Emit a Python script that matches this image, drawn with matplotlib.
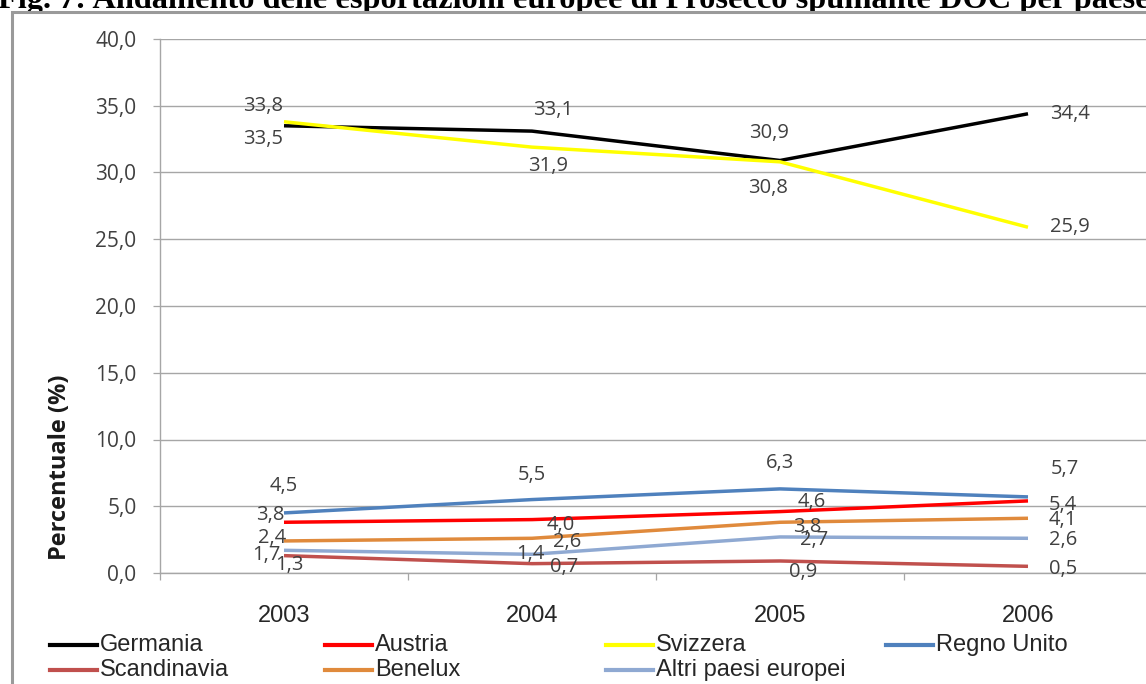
import matplotlib.pyplot as plt
import numpy as np
from matplotlib.lines import Line2D
from matplotlib.patches import Rectangle

# export share per country (%), 2003-2006
years = ['2003', '2004', '2005', '2006']
series_names = ['Germania', 'Austria', 'Svizzera', 'Regno Unito',
                'Scandinavia', 'Benelux', 'Altri paesi europei']
germania = [33.5, 33.1, 30.9, 34.4]
austria = [3.8, 4.0, 4.6, 5.4]
svizzera = [33.8, 31.9, 30.8, 25.9]
regno_unito = [4.5, 5.5, 6.3, 5.7]
scandinavia = [1.3, 0.7, 0.9, 0.5]
benelux = [2.4, 2.6, 3.8, 4.1]
altri = [1.7, 1.4, 2.7, 2.6]

title = 'Fig. 7: Andamento delle esportazioni europee di Prosecco spumante DOC per paese'

series = [germania, austria, svizzera, regno_unito, scandinavia, benelux, altri]
colors = ['#000000', '#ff0000', '#ffff00', '#4f81bd',
          '#c0504d', '#e08a3c', '#8fa9d2']

# where each value label sits relative to its point (pixels, +y up)
label_offsets = [
    [(-21, -13), (21, 21), (-11, 27), (42, 0)],
    [(-14, 7), (29, -5), (32, 10), (35, -4)],
    [(-21, 16), (16, -19), (-12, -26), (42, 0)],
    [(0, 27), (0, 25), (0, 26), (37, 28)],
    [(5, -9), (32, -3), (23, -11), (35, -3)],
    [(-12, 3), (35, -4), (27, -5), (35, -2)],
    [(-18, -5), (-2, 0), (34, -3), (35, -2)],
]

W, H = 1146, 684
fig = plt.figure(figsize=(W / 100, H / 100), dpi=100)

label_font = 'Open Sans'
arial = 'Liberation Sans'
grey_text = '#404040'
grid_col = '#a6a6a6'

# caption above the chart frame (mostly hidden by the frame)
fig.text(-2 / W, 1 - 8 / H, title, family='Liberation Serif', weight='bold',
         size=23.3, ha='left', va='baseline', zorder=-2)
fig.add_artist(Rectangle((12 / W, -0.1), 1.1, 1 - 12 / H + 0.1,
                         transform=fig.transFigure, facecolor='white',
                         edgecolor='#9a9a9a', lw=2.2, zorder=-1))

ax = fig.add_axes([160 / W, 111 / H, 992 / W, 534 / H])
ax.set_facecolor('none')
x = np.arange(len(years))

for vals, col, offs in zip(series, colors, label_offsets):
    ax.plot(x, vals, color=col, lw=2.5, solid_capstyle='butt', clip_on=False)
    for xi, v, (dx, dy) in zip(x, vals, offs):
        ax.annotate(f'{v:.1f}'.replace('.', ','), (xi, v), xytext=(dx, dy),
                    textcoords='offset pixels', ha='center', va='center',
                    family=label_font, size=14.5, color=grey_text)

ax.set_xlim(-0.5, 3.5)
ax.set_ylim(0, 40)
yt = np.arange(0, 41, 5)
ax.set_yticks(yt)
ax.set_yticklabels([f'{t:.1f}'.replace('.', ',') for t in yt],
                   family=label_font, size=15, color=grey_text)
ax.yaxis.grid(True, color=grid_col, lw=1.0)
ax.set_axisbelow(True)
ax.tick_params(axis='y', length=5, width=0.9, color=grid_col, pad=12)

ax.set_xticks(x)
ax.set_xticklabels(years, family=arial, size=17, color='#262626')
ax.set_xticks(np.arange(-0.5, 3.6, 1), minor=True)
ax.tick_params(axis='x', which='major', length=0, pad=23)
ax.tick_params(axis='x', which='minor', length=5, width=0.9, color=grid_col)

for s in ['top', 'right']:
    ax.spines[s].set_visible(False)
for s in ['left', 'bottom']:
    ax.spines[s].set_color(grid_col)
    ax.spines[s].set_linewidth(1.0)

fig.text(60 / W, 1 - 467 / H, 'Percentuale (%)', rotation=90, ha='center',
         va='center', weight='bold', size=17, family=label_font, color='#1a1a1a')

# legend, two rows of four columns
col_x = [50, 325, 606, 886]
row_y = [645, 670]
for k, (name, col) in enumerate(zip(series_names, colors)):
    r, c = divmod(k, 4)
    x0 = col_x[c]
    y0 = 1 - row_y[r] / H
    fig.add_artist(Line2D([x0 / W, (x0 + 47) / W], [y0, y0], color=col, lw=3,
                          transform=fig.transFigure))
    fig.text((x0 + 50) / W, y0, name, family=arial, size=17, color='#262626',
             ha='left', va='center')

fig.savefig('out.png', dpi=100)
